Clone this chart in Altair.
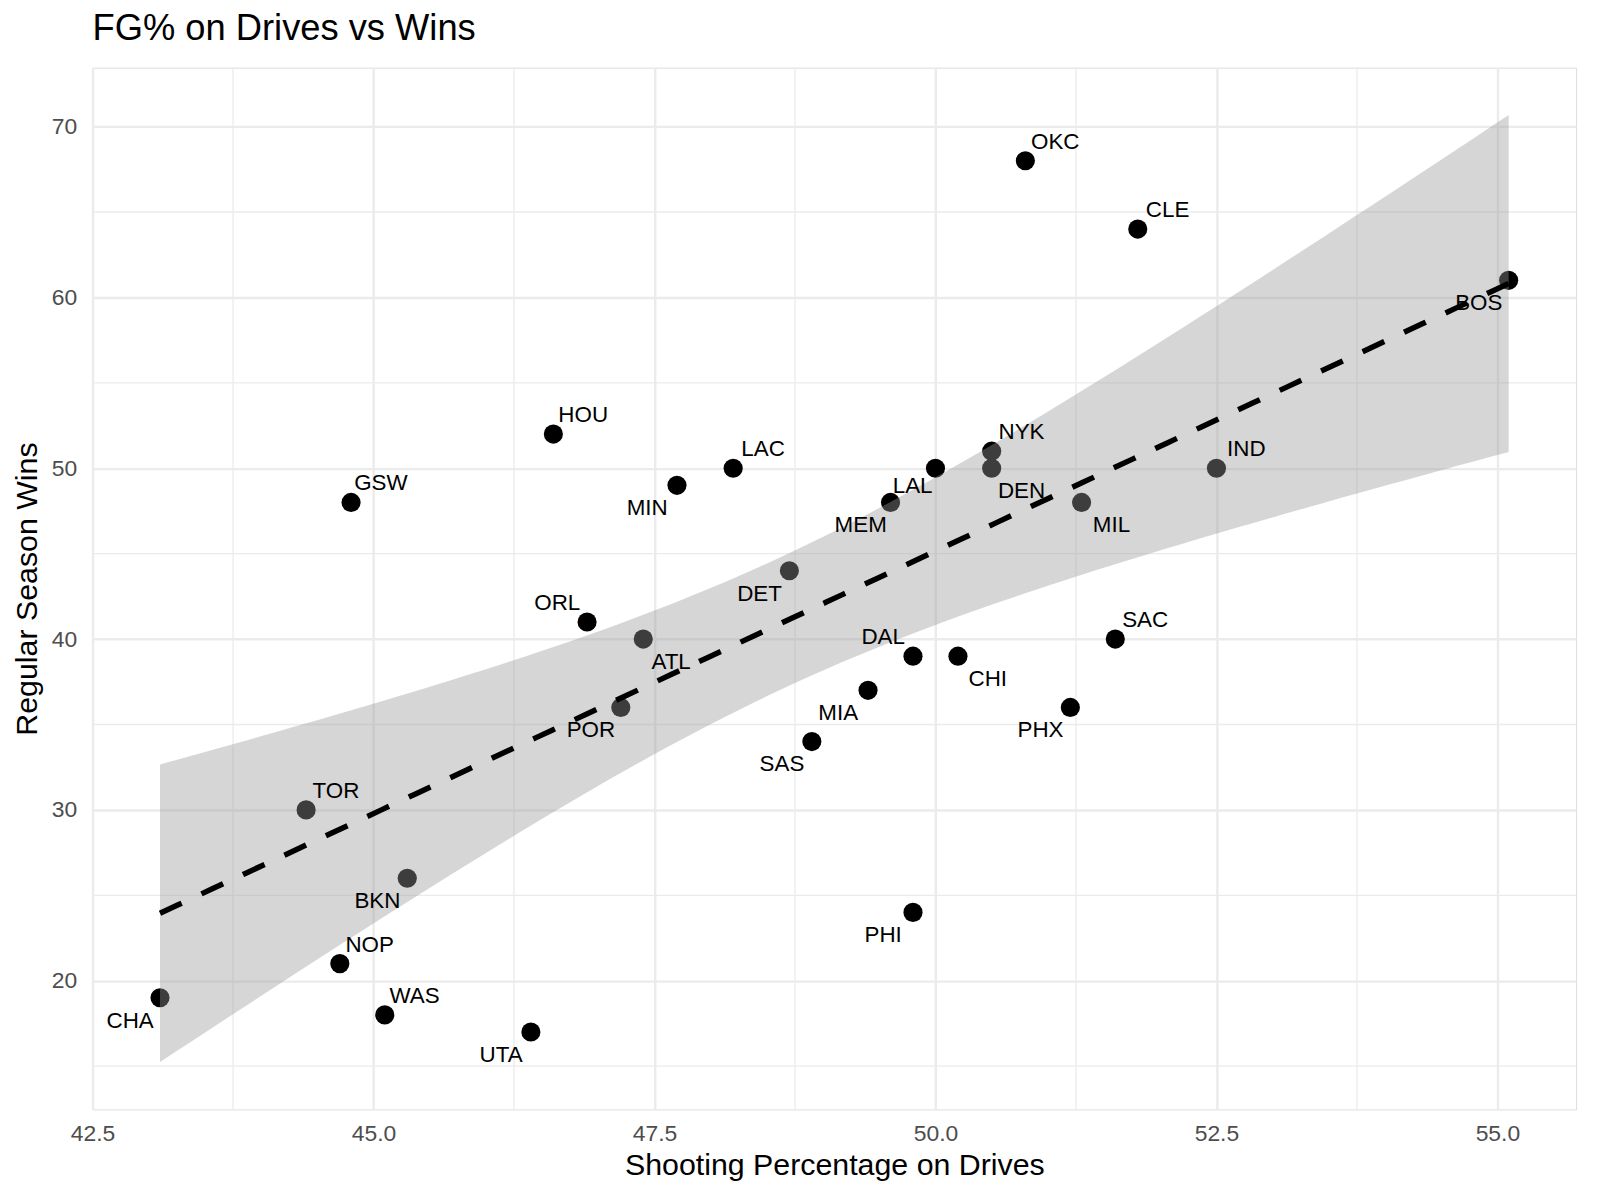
import altair as alt
import numpy as np
import pandas as pd

# ---- data ----
teams = ["OKC", "CLE", "BOS", "HOU", "LAC", "MIN", "GSW", "NYK", "DEN", "LAL",
         "MEM", "IND", "MIL", "DET", "ORL", "ATL", "SAC", "DAL", "CHI", "MIA",
         "POR", "PHX", "SAS", "TOR", "BKN", "PHI", "NOP", "CHA", "WAS", "UTA"]
fg_drives = [50.8, 51.8, 55.1, 46.6, 48.2, 47.7, 44.8, 50.5, 50.5, 50.0,
             49.6, 52.5, 51.3, 48.7, 46.9, 47.4, 51.6, 49.8, 50.2, 49.4,
             47.2, 51.2, 48.9, 44.4, 45.3, 49.8, 44.7, 43.1, 45.1, 46.4]
wins = [68, 64, 61, 52, 50, 49, 48, 51, 50, 50,
        48, 50, 48, 44, 41, 40, 40, 39, 39, 37,
        36, 36, 34, 30, 26, 24, 21, 19, 18, 17]

# label placement (pixel nudges, like ggrepel's result)
label_dx = [30, 30, -30, 30, 30, -30, 30, 30, 30, -23,
            -30, 30, 30, -30, -30, 28, 30, -30, 30, -30,
            -30, -30, -30, 30, -30, -30, 30, -30, 30, -30]
label_dy = [-20, -20, 22, -20, -20, 22, -20, -20, 22, 17,
            22, -20, 22, 22, -20, 22, -20, -20, 22, 22,
            22, 22, 22, -20, 22, 22, -20, 22, -20, 22]

x_major = [42.5, 45.0, 47.5, 50.0, 52.5, 55.0]
x_minor = [43.75, 46.25, 48.75, 51.25, 53.75]
y_major = [20, 30, 40, 50, 60, 70]
y_minor = [15, 25, 35, 45, 55, 65]

df = pd.DataFrame({"team": teams, "fg": fg_drives, "wins": wins,
                   "dx": label_dx, "dy": label_dy})

# ---- linear fit with 95% confidence band (as geom_smooth(method="lm")) ----
x = np.array(fg_drives, dtype=float)
y = np.array(wins, dtype=float)
n = len(x)
b1, b0 = np.polyfit(x, y, 1)
resid = y - (b0 + b1 * x)
s = np.sqrt(np.sum(resid ** 2) / (n - 2))
sxx = np.sum((x - x.mean()) ** 2)
t_crit = 2.048407  # t(0.975, df=28)
gx = np.linspace(x.min(), x.max(), 80)
gy = b0 + b1 * gx
se = s * np.sqrt(1.0 / n + (gx - x.mean()) ** 2 / sxx)
band = pd.DataFrame({"fg": gx, "fit": gy, "lo": gy - t_crit * se, "hi": gy + t_crit * se})

xr = x.max() - x.min()
x_dom = [x.min() - 0.05 * xr, x.max() + 0.05 * xr]
ylo = min(y.min(), band["lo"].min())
yhi = max(y.max(), band["hi"].max())
yr = yhi - ylo
y_dom = [ylo - 0.05 * yr, yhi + 0.05 * yr]

W, H = 1491, 1047
FONT = "Liberation Sans"
kx = (x_dom[1] - x_dom[0]) / W   # data units per pixel
ky = (y_dom[1] - y_dom[0]) / H

xs = alt.Scale(domain=x_dom, nice=False, zero=False)
ys = alt.Scale(domain=y_dom, nice=False, zero=False)

x_axis = alt.Axis(values=x_major, format=".1f", grid=True, gridColor="#ebebeb",
                  gridWidth=2.4, domain=False, ticks=False, tickSize=0,
                  labelFontSize=23, labelColor="#4d4d4d", labelFont=FONT,
                  labelPadding=13, labelFlush=False,
                  title="Shooting Percentage on Drives", titleFontSize=30.5,
                  titleFont=FONT, titleFontWeight="normal", titleColor="black",
                  titleBaseline="alphabetic", titleX=W / 2, titleY=65,
                  titleAlign="center")
y_axis = alt.Axis(values=y_major, grid=True, gridColor="#ebebeb", gridWidth=2.4,
                  domain=False, ticks=False, tickSize=0,
                  labelFontSize=23, labelColor="#4d4d4d", labelFont=FONT,
                  labelPadding=16, labelFlush=False,
                  title="Regular Season Wins", titleFontSize=30.5, titleFont=FONT,
                  titleFontWeight="normal", titleColor="black",
                  titleBaseline="alphabetic", titleAngle=270, titleX=-56,
                  titleY=H / 2, titleAlign="center")

minor_x = alt.Chart(pd.DataFrame({"v": x_minor})).mark_rule(
    color="#ebebeb", strokeWidth=1.3).encode(x=alt.X("v:Q", scale=xs, axis=x_axis))
minor_y = alt.Chart(pd.DataFrame({"v": y_minor})).mark_rule(
    color="#ebebeb", strokeWidth=1.3).encode(y=alt.Y("v:Q", scale=ys, axis=y_axis))

points = alt.Chart(df).mark_circle(size=370, color="black", opacity=1).encode(
    x=alt.X("fg:Q", scale=xs, axis=x_axis),
    y=alt.Y("wins:Q", scale=ys, axis=y_axis),
)

ribbon = alt.Chart(band).mark_area(color="#999999", opacity=0.4).encode(
    x=alt.X("fg:Q", scale=xs),
    y=alt.Y("lo:Q", scale=ys),
    y2="hi:Q",
)

line = alt.Chart(band).mark_line(color="black", strokeWidth=5.5,
                                 strokeDash=[24, 22], strokeCap="butt").encode(
    x=alt.X("fg:Q", scale=xs),
    y=alt.Y("fit:Q", scale=ys),
)

labels = alt.Chart(df).transform_calculate(
    lx=f"datum.fg + datum.dx * {kx}",
    ly=f"datum.wins - datum.dy * {ky}",
).mark_text(font=FONT, fontSize=22.5, color="black",
            align="center", baseline="middle", dy=1).encode(
    x=alt.X("lx:Q", scale=xs),
    y=alt.Y("ly:Q", scale=ys),
    text="team:N",
)

chart = alt.layer(minor_x, minor_y, points, ribbon, line, labels).properties(
    width=W, height=H,
    title=alt.Title("FG% on Drives vs Wins", anchor="start", frame="group",
                    fontSize=36.5, font=FONT, fontWeight="normal", color="black",
                    offset=23, baseline="alphabetic", dy=32),
    autosize=alt.AutoSizeParams(type="none"),
    padding={"left": 85, "top": 57, "right": 16, "bottom": 80},
).configure_view(stroke=None).configure(background="white")

chart.save("out.html", embed_options={"renderer": "svg", "actions": False})
